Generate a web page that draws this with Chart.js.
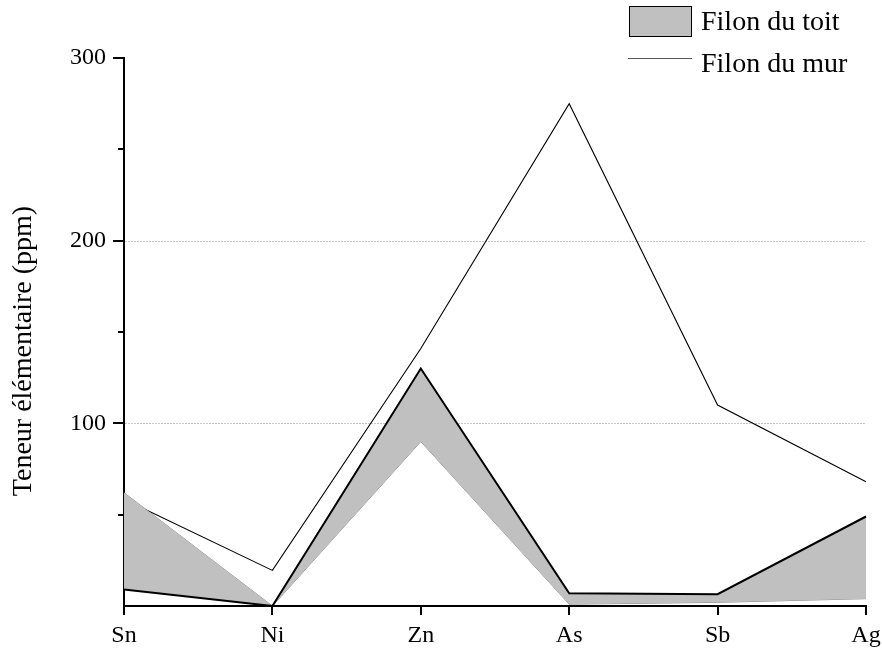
<!DOCTYPE html>
<html>
<head>
<meta charset="utf-8">
<script src="https://cdn.jsdelivr.net/npm/chart.js@4/dist/chart.umd.min.js"></script>
<style>
html,body{margin:0;padding:0;background:#fff;}
#wrap{width:882px;height:648px;}
</style>
</head>
<body>
<div id="wrap"><canvas id="c" width="882" height="648"></canvas></div>
<script>
const categories = ['Sn', 'Ni', 'Zn', 'As', 'Sb', 'Ag'];
const toitUpper = [9, 0, 130, 7, 6.5, 49];
const toitLower = [62, 0, 90, 1, 2, 4];
const murValues = [58.5, 19.5, 141, 275, 110, 68];
const yMajorTicks = [100, 200, 300];
const yMinorTicks = [50, 150, 250];
const gridValues = [100, 200];
const legendLabels = ['Filon du toit', 'Filon du mur'];
const yTitle = 'Teneur élémentaire (ppm)';

const FONT = '"Liberation Serif", "Times New Roman", serif';

const decor = {
  id: 'decor',
  beforeDatasetsDraw(chart) {
    const ctx = chart.ctx, y = chart.scales.y, a = chart.chartArea;
    ctx.save();
    ctx.strokeStyle = '#c8c8c8';
    ctx.lineWidth = 1;
    ctx.setLineDash([2, 1]);
    gridValues.forEach(v => {
      const py = Math.round(y.getPixelForValue(v)) + 0.5;
      ctx.beginPath(); ctx.moveTo(a.left + 1, py); ctx.lineTo(a.right, py); ctx.stroke();
    });
    ctx.restore();
  },
  afterDraw(chart) {
    const ctx = chart.ctx, x = chart.scales.x, y = chart.scales.y, a = chart.chartArea;
    ctx.save();
    ctx.strokeStyle = '#000';
    ctx.lineWidth = 2;
    yMajorTicks.forEach(v => {
      const py = Math.round(y.getPixelForValue(v));
      ctx.beginPath(); ctx.moveTo(a.left - 11, py); ctx.lineTo(a.left, py); ctx.stroke();
    });
    yMinorTicks.forEach(v => {
      const py = Math.round(y.getPixelForValue(v));
      ctx.beginPath(); ctx.moveTo(a.left - 6, py); ctx.lineTo(a.left, py); ctx.stroke();
    });
    categories.forEach((c, i) => {
      const px = Math.round(x.getPixelForTick(i));
      ctx.beginPath(); ctx.moveTo(px, a.bottom); ctx.lineTo(px, a.bottom + 9); ctx.stroke();
    });
    // y title
    ctx.fillStyle = '#000';
    ctx.font = '28px ' + FONT;
    ctx.textAlign = 'center';
    ctx.textBaseline = 'middle';
    ctx.translate(24, 351);
    ctx.rotate(-Math.PI / 2);
    ctx.fillText(yTitle, 0, 0);
    ctx.restore();
    // legend
    ctx.save();
    ctx.fillStyle = '#c0c0c0';
    ctx.fillRect(629, 6, 63, 31);
    ctx.strokeStyle = '#000';
    ctx.lineWidth = 1;
    ctx.strokeRect(629.5, 6.5, 62, 30);
    ctx.strokeStyle = '#555';
    ctx.beginPath(); ctx.moveTo(628, 58.5); ctx.lineTo(692, 58.5); ctx.stroke();
    ctx.fillStyle = '#000';
    ctx.font = '28px ' + FONT;
    ctx.textAlign = 'left';
    ctx.textBaseline = 'alphabetic';
    ctx.fillText(legendLabels[0], 701, 30);
    ctx.fillText(legendLabels[1], 701, 72);
    ctx.restore();
  }
};

new Chart(document.getElementById('c'), {
  type: 'line',
  data: {
    labels: categories,
    datasets: [
      {
        label: legendLabels[0],
        data: toitUpper,
        borderColor: '#000',
        borderWidth: 2,
        backgroundColor: '#c0c0c0',
        fill: '+1',
        pointRadius: 0,
        tension: 0
      },
      {
        label: 'toit-lower',
        data: toitLower,
        borderColor: '#8c8c8c',
        borderWidth: 1,
        fill: false,
        pointRadius: 0,
        tension: 0
      },
      {
        label: legendLabels[1],
        data: murValues,
        borderColor: '#000',
        borderWidth: 1.1,
        fill: false,
        pointRadius: 0,
        tension: 0
      }
    ]
  },
  options: {
    responsive: false,
    animation: false,
    devicePixelRatio: 1,
    layout: { padding: { top: 58, right: 16, left: 0, bottom: 0 } },
    plugins: {
      legend: { display: false },
      tooltip: { enabled: false }
    },
    scales: {
      x: {
        type: 'category',
        offset: false,
        grid: { display: false, drawTicks: false },
        border: { display: true, color: '#000', width: 2 },
        ticks: { color: '#000', font: { family: FONT, size: 24 }, padding: 15, maxRotation: 0, autoSkip: false },
        afterFit(s) { s.height = 42; s.paddingLeft = 0; s.paddingRight = 0; }
      },
      y: {
        min: 0,
        max: 300,
        grid: { display: false, drawTicks: false },
        border: { display: true, color: '#000', width: 2 },
        ticks: {
          stepSize: 100,
          color: '#000',
          font: { family: FONT, size: 24 },
          padding: 18,
          callback: v => (yMajorTicks.includes(v) ? String(v) : '')
        },
        afterFit(s) { s.width = 124; s.paddingTop = 0; s.paddingBottom = 0; }
      }
    }
  },
  plugins: [decor]
});
</script>
</body>
</html>
